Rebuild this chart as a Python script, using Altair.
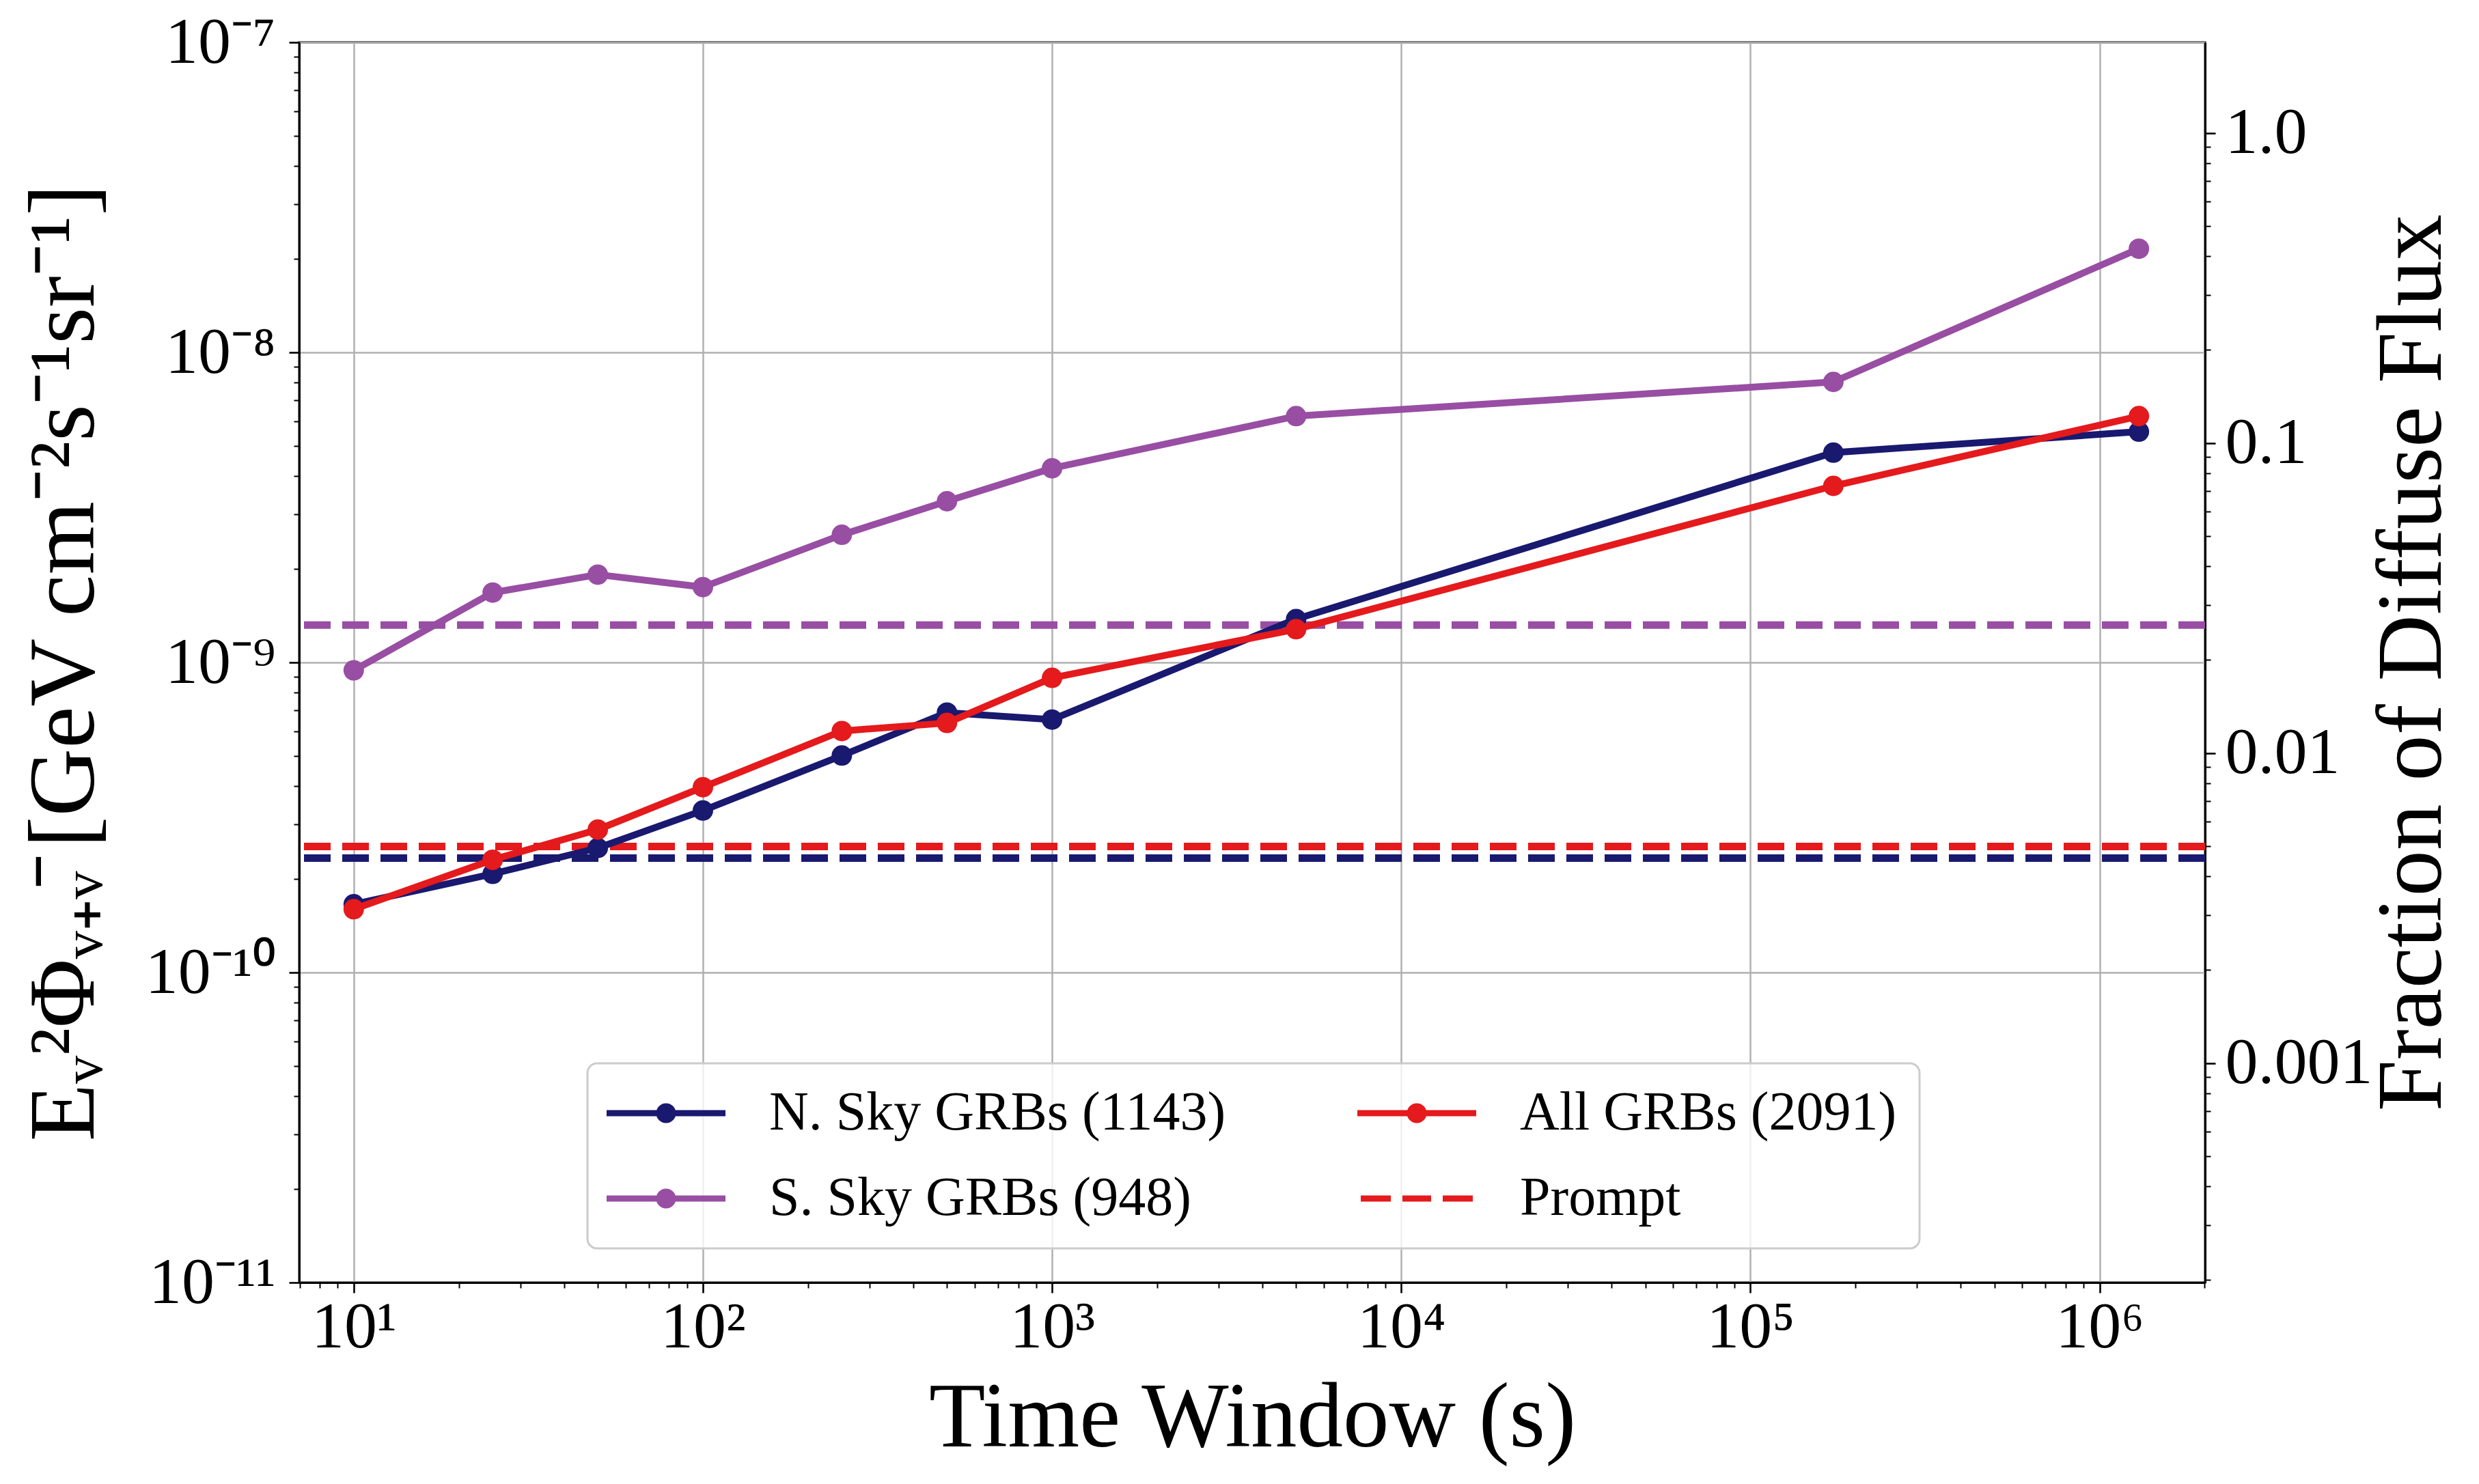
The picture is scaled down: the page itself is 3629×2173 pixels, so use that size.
import math
import altair as alt
import pandas as pd

# ---------------- data ----------------
times = [10, 25, 50, 100, 250, 500, 1000, 5000, 172800, 1296000]
n_sky = [1.66e-10, 2.08e-10, 2.52e-10, 3.33e-10, 5.01e-10, 6.89e-10, 6.54e-10, 1.38e-9, 4.75e-9, 5.55e-9]
s_sky = [9.43e-10, 1.68e-9, 1.92e-9, 1.75e-9, 2.58e-9, 3.31e-9, 4.23e-9, 6.23e-9, 8.03e-9, 2.16e-8]
all_grbs = [1.60e-10, 2.31e-10, 2.89e-10, 3.96e-10, 6.01e-10, 6.38e-10, 8.92e-10, 1.28e-9, 3.71e-9, 6.23e-9]

series_names = ["N. Sky GRBs (1143)", "S. Sky GRBs (948)", "All GRBs (2091)"]
series_values = [n_sky, s_sky, all_grbs]
series_colors = ["#191970", "#984ea3", "#e41a1c"]
prompt_values = [2.34e-10, 1.32e-9, 2.55e-10]
prompt_label = "Prompt"

x_major = [10, 100, 1000, 10000, 100000, 1000000]
x_major_labels = ["10¹", "10²", "10³", "10⁴", "10⁵", "10⁶"]
y_major = [1e-11, 1e-10, 1e-9, 1e-8, 1e-7]
y_major_labels = ["10⁻¹¹", "10⁻¹⁰", "10⁻⁹", "10⁻⁸", "10⁻⁷"]
frac_major = [0.001, 0.01, 0.1, 1.0]
frac_major_labels = ["0.001", "0.01", "0.1", "1.0"]

x_domain = [6.98, 2.005e6]
y_domain = [1e-11, 1e-7]
frac_domain = [1.96e-4, 1.96]

FONT = "Liberation Serif"

# ---------------- helpers ----------------
DEC = "abs(log(datum.value)/LN10 - round(log(datum.value)/LN10)) < 0.001"


def label_expr(majors, labels):
    expr = "''"
    for v, l in reversed(list(zip(majors, labels))):
        e = round(math.log10(v))
        expr = f"(round(log(datum.value)/LN10) == {e} ? '{l}' : {expr})"
    return f"({DEC}) ? {expr} : ''"


def log_ticks(lo, hi, kmin, kmax):
    out = []
    for k in range(kmin, kmax + 1):
        for m in range(1, 10):
            v = m * 10.0 ** k
            if lo * 0.9999 <= v <= hi * 1.0001:
                out.append(float(f"{v:.6g}"))
    return out


x_ticks = log_ticks(x_domain[0], x_domain[1], 0, 6)
y_ticks = log_ticks(y_domain[0], y_domain[1], -11, -7)
frac_ticks = log_ticks(frac_domain[0], frac_domain[1], -4, 0)

cond_tick_size = {"condition": {"test": DEC, "value": 15}, "value": 8}
cond_tick_width = {"condition": {"test": DEC, "value": 2.6}, "value": 2}
cond_grid = {"condition": {"test": DEC, "value": 1}, "value": 0}

xscale = alt.Scale(type="log", domain=x_domain, nice=False)
yscale = alt.Scale(type="log", domain=y_domain, nice=False)

xaxis = alt.Axis(
    values=x_ticks, labelExpr=label_expr(x_major, x_major_labels),
    title="Time Window (s)", grid=True, gridOpacity=cond_grid,
    tickSize=cond_tick_size, tickWidth=cond_tick_width,
    labelFontSize=96, titleFontSize=135, labelPadding=3, labelLimit=1000,
    titleY=239, titleBaseline="alphabetic",
    labelFlush=False, labelOverlap=False,
)
yaxis = alt.Axis(
    values=y_ticks, labelExpr=label_expr(y_major, y_major_labels),
    title="Eᵥ²Φᵥ₊ᵥ̄ [GeV cm⁻²s⁻¹sr⁻¹]", grid=True, gridOpacity=cond_grid,
    tickSize=cond_tick_size, tickWidth=cond_tick_width,
    labelFontSize=96, titleFontSize=138, labelPadding=20, labelLimit=1000,
    titleAngle=270, titleX=-302, titleBaseline="alphabetic", titleLimit=3000,
    labelFlush=False, labelOverlap=False,
)
raxis = alt.Axis(
    orient="right",
    values=frac_ticks, labelExpr=label_expr(frac_major, frac_major_labels),
    title="Fraction of Diffuse Flux", grid=False,
    tickSize=cond_tick_size, tickWidth=cond_tick_width,
    labelFontSize=96, titleFontSize=135, labelPadding=14, labelLimit=1000,
    titleAngle=270, titleX=344, titleBaseline="alphabetic", titleLimit=3000,
    labelFlush=False, labelOverlap=False,
)

layers = []

# prompt (dashed horizontal lines)
for name, val, col in zip(series_names, prompt_values, series_colors):
    df = pd.DataFrame({"flux": [val], "series": [name]})
    layers.append(
        alt.Chart(df).mark_rule(strokeWidth=11, strokeDash=[39, 17], color=col).encode(
            y=alt.Y("flux:Q", scale=yscale, axis=yaxis)
        )
    )

# series lines with markers
for name, vals, col in zip(series_names, series_values, series_colors):
    df = pd.DataFrame({"t": times, "flux": vals, "series": name})
    base = alt.Chart(df).encode(
        x=alt.X("t:Q", scale=xscale, axis=xaxis),
        y=alt.Y("flux:Q", scale=yscale, axis=yaxis),
    )
    layers.append(base.mark_line(strokeWidth=10, color=col, strokeJoin="round"))
    layers.append(base.mark_point(filled=True, opacity=1, size=900, color=col))

# legend (entries only, no visible marks)
legend_domain = [series_names[0], series_names[1], series_names[2], prompt_label]
legend_colors = [series_colors[0], series_colors[1], series_colors[2], series_colors[2]]
line_dot = "M-4.35,0H4.35M-0.5,0A0.5,0.5,0,1,1,0.5,0A0.5,0.5,0,1,1,-0.5,0Z"
dash_path = "M-4.1,0H-1.9M-1.05,0H1.05M1.9,0H4.1"
legend_shapes = [line_dot, line_dot, line_dot, dash_path]

leg = alt.Legend(
    title=None, orient="none", legendX=422, legendY=1495, columns=2,
    columnPadding=174, rowPadding=45, padding=33,
    symbolSize=1600, symbolStrokeWidth=9, symbolOffset=42, symbolOpacity=1,
    labelOffset=111, labelFontSize=80, labelFont=FONT, labelLimit=3000,
    fillColor="rgba(255,255,255,0.8)", strokeColor="#cccccc", cornerRadius=14,
)
leg_df = pd.DataFrame({"label": legend_domain})
layers.append(
    alt.Chart(leg_df).mark_point(filled=True, opacity=1, strokeWidth=9).encode(
        x=alt.X("t:Q", scale=xscale, axis=xaxis),
        y=alt.Y("flux:Q", scale=yscale, axis=yaxis),
        fill=alt.Fill("label:N", scale=alt.Scale(domain=legend_domain, range=legend_colors), legend=leg),
        stroke=alt.Stroke("label:N", scale=alt.Scale(domain=legend_domain, range=legend_colors), legend=leg),
        shape=alt.Shape("label:N", scale=alt.Scale(domain=legend_domain, range=legend_shapes), legend=leg),
    )
)

inner = alt.layer(*layers)

frac_df = pd.DataFrame({"frac": frac_major})
right = alt.Chart(frac_df).mark_rule(opacity=0).encode(
    y=alt.Y("frac:Q", scale=alt.Scale(type="log", domain=frac_domain, nice=False), axis=raxis)
)

chart = (
    alt.layer(inner, right)
    .resolve_scale(y="independent")
    .properties(
        width=2790, height=1816,
        autosize=alt.AutoSizeParams(type="none"),
        padding={"left": 430, "top": 54, "right": 393, "bottom": 287},
    )
    .configure(font=FONT)
    .configure_axis(
        labelFont=FONT, titleFont=FONT, labelColor="black", titleColor="black",
        titleFontWeight="normal", domainColor="black", domainWidth=3,
        tickColor="black", gridColor="#b0b0b0", gridWidth=2.5,
    )
    .configure_legend(strokeWidth=3, labelColor="black")
    .configure_view(stroke="black", strokeWidth=3)
)

chart.save("out.html", embed_options={"renderer": "svg", "actions": False})
